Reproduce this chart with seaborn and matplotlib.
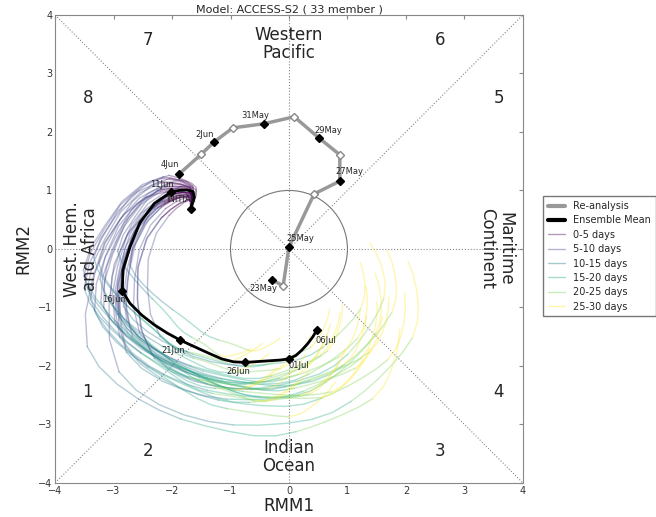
import numpy as np
import pandas as pd
import seaborn as sns
import matplotlib.pyplot as plt
from matplotlib.lines import Line2D
from matplotlib.patches import Circle

# Re-analysis (observed) RMM path, 23May -> 4Jun, daily
obs_rmm1 = [-0.29, -0.10, 0.00, 0.43, 0.87, 0.87, 0.51, 0.09, -0.43, -0.96, -1.28, -1.50, -1.88]
obs_rmm2 = [-0.53, -0.63, 0.03, 0.94, 1.16, 1.61, 1.90, 2.26, 2.14, 2.07, 1.83, 1.62, 1.28]
obs_labels = {0: "23May", 2: "25May", 4: "27May", 6: "29May", 8: "31May", 10: "2Jun", 12: "4Jun"}

# Ensemble mean forecast, INITIAL (6Jun) -> 06Jul, daily
mean_rmm1 = [-1.68, -1.62, -1.64, -1.75, -1.88, -2.02, -2.30, -2.55, -2.72, -2.84, -2.85,
             -2.72, -2.52, -2.30, -2.08, -1.86, -1.62, -1.38, -1.15, -0.95, -0.75,
             -0.60, -0.45, -0.30, -0.15, 0.00, 0.12, 0.22, 0.32, 0.41, 0.48]
mean_rmm2 = [0.68, 0.88, 0.98, 1.01, 1.00, 0.97, 0.78, 0.45, 0.03, -0.36, -0.72,
             -0.93, -1.13, -1.30, -1.44, -1.56, -1.67, -1.78, -1.88, -1.93, -1.94,
             -1.93, -1.92, -1.91, -1.90, -1.88, -1.82, -1.73, -1.62, -1.50, -1.38]
mean_labels = {0: "INITIAL", 5: "11Jun", 10: "16Jun", 15: "21Jun", 20: "26Jun", 25: "01Jul", 30: "06Jul"}

# 33 members, read as spread around the mean:
# amplitude factor and phase offset (deg) reached at day 30, and mid-range amplitude bump
member_amp = [1.35, 1.05, 1.60, 0.85, 1.25, 1.50, 1.00, 1.15, 1.45, 0.95, 1.30, 1.55, 1.10, 1.05, 1.45, 0.90, 1.25,
              1.20, 1.65, 1.40, 0.85, 1.55, 1.05, 1.25, 1.35, 1.00, 1.15, 1.45, 0.95, 1.30, 1.40, 1.20, 1.10]
member_phase = [10, -25, 35, 60, -10, 20, 45, -35, 5, 75, -20, 15, 30, -5, 50, 25, -40,
                40, 0, 65, 15, -15, 55, -30, 35, 10, 70, -10, 20, 45, -25, 30, 5]
member_bump = [0.08, -0.10, 0.12, -0.05, 0.15, -0.12, 0.05, 0.10, -0.08, 0.03, 0.12, -0.15, 0.00, 0.10, -0.05, 0.15,
               -0.10, 0.05, -0.03, 0.10, 0.08, -0.08, 0.12, 0.03, -0.10, 0.15, -0.05, 0.05, 0.10, -0.12, 0.08, 0.00, 0.12]

lead_bands = ["0-5 days", "5-10 days", "10-15 days", "15-20 days", "20-25 days", "25-30 days"]

band_colors = [plt.cm.viridis(v) for v in np.linspace(0, 1, 6)]

# build member segments
mx = np.array(mean_rmm1)
my = np.array(mean_rmm2)
r = np.hypot(mx, my)
th = np.unwrap(np.arctan2(my, mx))
lead = np.arange(len(mx)) / 30.0
rows = []
for m, (a, p, bmp) in enumerate(zip(member_amp, member_phase, member_bump)):
    rr = r * (1 + (a - 1) * lead + bmp * np.sin(np.pi * lead))
    tt = th + np.deg2rad(p) * lead
    xs = rr * np.cos(tt)
    ys = rr * np.sin(tt)
    for b in range(6):
        for d in range(5 * b, 5 * b + 6):
            rows.append({"seg": m * 6 + b, "band": lead_bands[b], "x": xs[d], "y": ys[d]})
members = pd.DataFrame(rows)

fig = plt.figure(figsize=(6.56, 5.17), dpi=100)
sns.set_style("white")
ax = fig.add_axes([0.084, 0.066, 0.713, 0.905])

# background phase diagram
ax.plot([-4, 4], [-4, 4], ls=":", color="#888888", lw=0.8)
ax.plot([-4, 4], [4, -4], ls=":", color="#888888", lw=0.8)
ax.axhline(0, ls=":", color="#888888", lw=0.8)
ax.axvline(0, ls=":", color="#888888", lw=0.8)
ax.add_patch(Circle((0, 0), 1, fill=False, color="#777777", lw=0.8))

sns.lineplot(data=members, x="x", y="y", units="seg", estimator=None, sort=False,
             hue="band", hue_order=lead_bands, palette=band_colors, alpha=0.35, lw=1,
             legend=False, ax=ax)

# re-analysis
obs = pd.DataFrame({"x": obs_rmm1, "y": obs_rmm2})
sns.lineplot(data=obs, x="x", y="y", sort=False, estimator=None, color="#999999", lw=2.5, ax=ax)
for i, (x, y) in enumerate(zip(obs_rmm1, obs_rmm2)):
    if i % 2 == 0:
        ax.plot(x, y, "D", color="black", ms=4.5, zorder=5)
    else:
        ax.plot(x, y, "D", mfc="white", mec="#888888", ms=4.5, zorder=5)
obs_off = {0: (-0.15, -0.15), 2: (0.19, 0.14), 4: (0.17, 0.16), 6: (0.17, 0.13),
           8: (-0.15, 0.15), 10: (-0.16, 0.12), 12: (-0.15, 0.16)}
for i, lab in obs_labels.items():
    dx, dy = obs_off[i]
    ax.text(obs_rmm1[i] + dx, obs_rmm2[i] + dy, lab, fontsize=6, ha="center", va="center", zorder=6)

# ensemble mean
ens = pd.DataFrame({"x": mean_rmm1, "y": mean_rmm2})
sns.lineplot(data=ens, x="x", y="y", sort=False, estimator=None, color="black", lw=2, ax=ax)
mean_off = {0: (-0.17, 0.16), 5: (-0.15, 0.14), 10: (-0.14, -0.15), 15: (-0.12, -0.17),
            20: (-0.12, -0.16), 25: (0.17, -0.12), 30: (0.15, -0.18)}
for i, lab in mean_labels.items():
    ax.plot(mean_rmm1[i], mean_rmm2[i], "D", color="black", ms=4.5, zorder=5)
    dx, dy = mean_off[i]
    ax.text(mean_rmm1[i] + dx, mean_rmm2[i] + dy, lab, fontsize=6, ha="center", va="center", zorder=6)

# phase numbers and regions
phase_pos = {"1": (-3.44, -2.44), "2": (-2.41, -3.45), "3": (2.58, -3.45), "4": (3.59, -2.44),
             "5": (3.59, 2.58), "6": (2.58, 3.57), "7": (-2.41, 3.57), "8": (-3.44, 2.58)}
for k, (x, y) in phase_pos.items():
    ax.text(x, y, k, fontsize=12, ha="center", va="center")
ax.text(0, 3.5, "Western\nPacific", fontsize=12, ha="center", va="center", linespacing=1.0)
ax.text(0, -3.55, "Indian\nOcean", fontsize=12, ha="center", va="center", linespacing=1.0)
ax.text(-3.55, 0, "West. Hem.\nand Africa", fontsize=12, ha="center", va="center", rotation=90, linespacing=1.0)
ax.text(3.55, 0, "Maritime\nContinent", fontsize=12, ha="center", va="center", rotation=-90, linespacing=1.0)

ax.set_xlim(-4, 4)
ax.set_ylim(-4, 4)
ax.set_xticks(range(-4, 5))
ax.set_yticks(range(-4, 5))
ax.tick_params(direction="in", top=True, right=True, labelsize=7, length=3, pad=2,
               colors="#888888", labelcolor="#333333")
for s in ax.spines.values():
    s.set_color("#888888")
ax.set_xlabel("RMM1", fontsize=12, color="#222222", labelpad=1)
ax.set_ylabel("RMM2", fontsize=12, color="#222222", labelpad=4)
ax.set_title("Model: ACCESS-S2 ( 33 member )", fontsize=8, pad=2)

handles = [Line2D([], [], color="#999999", lw=3), Line2D([], [], color="black", lw=3)]
handles += [Line2D([], [], color=c, lw=1, alpha=0.4) for c in band_colors]
labels = ["Re-analysis", "Ensemble Mean"] + lead_bands
fig.legend(handles, labels, loc="upper left", bbox_to_anchor=(0.82, 0.63), fontsize=7,
           fancybox=False, edgecolor="#555555", handlelength=1.8, labelspacing=0.45, borderpad=0.5)

fig.savefig("out.png", dpi=100)
